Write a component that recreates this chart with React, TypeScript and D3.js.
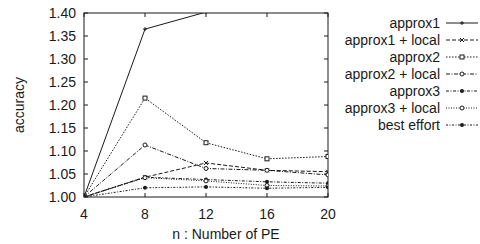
import React from 'react';
import * as d3 from 'd3';

const nValues = [4, 8, 12, 16, 20];
const yTicks = [1.0, 1.05, 1.1, 1.15, 1.2, 1.25, 1.3, 1.35, 1.4];

const approx1 = [1.0, 1.365, 1.402, 1.45, 1.48];
const approx1Local = [1.0, 1.043, 1.074, 1.058, 1.055];
const approx2 = [1.0, 1.215, 1.118, 1.083, 1.088];
const approx2Local = [1.0, 1.113, 1.062, 1.058, 1.048];
const approx3 = [1.0, 1.043, 1.038, 1.033, 1.03];
const approx3Local = [1.0, 1.042, 1.035, 1.025, 1.024];
const bestEffort = [1.0, 1.02, 1.022, 1.019, 1.021];

const seriesNames = ['approx1', 'approx1 + local', 'approx2', 'approx2 + local', 'approx3', 'approx3 + local', 'best effort'];
const seriesValues = [approx1, approx1Local, approx2, approx2Local, approx3, approx3Local, bestEffort];

const dashes = ['none', '4,2', '1.5,1.5', '4,1.5,1,1.5', '3,1.5,1,1.5', '1,1.5', '2,1.5,1,1.5'];
const markers = ['plus', 'cross', 'square', 'circle', 'dot', 'circle', 'dot'];

const font = 'Liberation Sans, Arial, sans-serif';
const ink = '#1a1a1a';

function Marker({ type, x, y }: { type: string; x: number; y: number }) {
  const s = 2;
  if (type === 'plus') return <path d={`M${x - s},${y}H${x + s}M${x},${y - s}V${y + s}`} stroke={ink} strokeWidth={1} />;
  if (type === 'cross') return <path d={`M${x - s},${y - s}L${x + s},${y + s}M${x - s},${y + s}L${x + s},${y - s}`} stroke={ink} strokeWidth={1} />;
  if (type === 'square') return <rect x={x - s} y={y - s} width={2 * s} height={2 * s} fill="white" stroke={ink} strokeWidth={1} />;
  if (type === 'circle') return <circle cx={x} cy={y} r={s} fill="white" stroke={ink} strokeWidth={1} />;
  return <circle cx={x} cy={y} r={s} fill={ink} />;
}

export default function App() {
  const margin = { left: 84, top: 13, right: 328, bottom: 197 };
  const x = d3.scaleLinear().domain([4, 20]).range([margin.left, margin.right]);
  const y = d3.scaleLinear().domain([1.0, 1.4]).range([margin.bottom, margin.top]);
  const line = d3.line<number>().x((_, i) => x(nValues[i])).y(d => y(d));
  const tick = 4;

  return (
    <svg width={480} height={244} style={{ position: 'absolute', left: 0, top: 0, background: 'white' }} fontFamily={font}>
      <defs>
        <clipPath id="plotClip">
          <rect x={margin.left} y={margin.top} width={margin.right - margin.left} height={margin.bottom - margin.top} />
        </clipPath>
      </defs>
      {/* frame */}
      <rect x={margin.left} y={margin.top} width={margin.right - margin.left} height={margin.bottom - margin.top} fill="none" stroke={ink} strokeWidth={1} />
      {/* y ticks */}
      {yTicks.map(t => (
        <g key={'y' + t}>
          <line x1={margin.left} x2={margin.left + tick} y1={y(t)} y2={y(t)} stroke={ink} />
          <line x1={margin.right} x2={margin.right - tick} y1={y(t)} y2={y(t)} stroke={ink} />
          <text x={76} y={y(t)} dy="0.35em" textAnchor="end" fontSize={14} fill={ink}>{t.toFixed(2)}</text>
        </g>
      ))}
      {/* x ticks */}
      {nValues.map(t => (
        <g key={'x' + t}>
          <line x1={x(t)} x2={x(t)} y1={margin.bottom} y2={margin.bottom - tick} stroke={ink} />
          <line x1={x(t)} x2={x(t)} y1={margin.top} y2={margin.top + tick} stroke={ink} />
          <text x={x(t)} y={214} dy="0.35em" textAnchor="middle" fontSize={14} fill={ink}>{t}</text>
        </g>
      ))}
      <text x={226} y={234} dy="0.35em" textAnchor="middle" fontSize={14} fill={ink}>n : Number of PE</text>
      <text transform="translate(19,105) rotate(-90)" dy="0.35em" textAnchor="middle" fontSize={14} fill={ink}>accuracy</text>
      {/* series */}
      <g clipPath="url(#plotClip)">
        {seriesValues.map((vals, i) => (
          <g key={seriesNames[i]}>
            <path d={line(vals) || ''} fill="none" stroke={ink} strokeWidth={1} strokeDasharray={dashes[i]} />
            {vals.map((v, j) => (
              <Marker key={j} type={markers[i]} x={x(nValues[j])} y={y(v)} />
            ))}
          </g>
        ))}
      </g>
      {/* legend */}
      {seriesNames.map((name, i) => {
        const ly = 23 + i * 17;
        return (
          <g key={'leg' + name}>
            <text x={440} y={ly} dy="0.35em" textAnchor="end" fontSize={14} fill={ink}>{name}</text>
            <line x1={446} x2={478} y1={ly} y2={ly} stroke={ink} strokeWidth={1} strokeDasharray={dashes[i]} />
            <Marker type={markers[i]} x={462} y={ly} />
          </g>
        );
      })}
    </svg>
  );
}
